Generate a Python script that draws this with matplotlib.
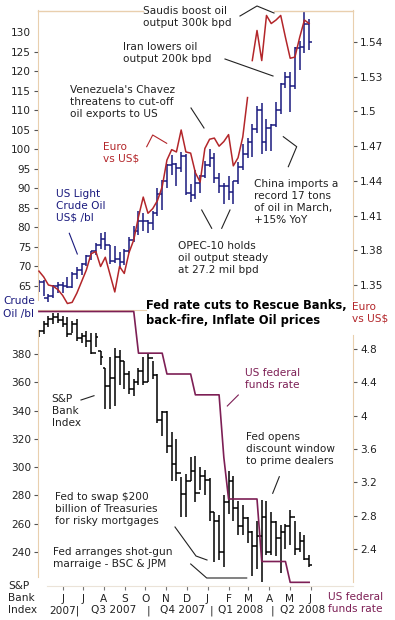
import numpy as np
import pandas as pd
import matplotlib
matplotlib.use('Agg')
import matplotlib.pyplot as plt
from matplotlib.lines import Line2D

# weekly data, first week ending 2007-04-27
oil_high = [66.5, 66.5, 63.0, 65.3, 66.0, 66.0, 67.2, 68.5, 69.8, 71.0, 73.0, 74.0, 76.0, 78.5, 78.8,
            75.5, 75.2, 73.6, 74.5, 77.5, 80.4, 84.1, 83.8, 82.0, 84.1, 90.0, 92.2, 96.2, 98.6, 96.5,
            99.3, 98.8, 91.0, 94.7, 93.4, 97.1, 100.0, 99.0, 94.0, 91.5, 93.2, 91.8, 96.7, 101.3, 103.0,
            106.5, 111.0, 111.8, 107.9, 106.6, 112.2, 117.0, 119.9, 119.8, 126.2, 127.8, 135.1, 133.3]
oil_low = [63.5, 62.5, 60.8, 61.8, 63.3, 63.3, 64.5, 64.6, 66.8, 67.8, 70.0, 71.6, 73.0, 74.5, 74.3,
           70.6, 70.8, 69.3, 70.5, 73.4, 76.3, 78.1, 79.0, 78.7, 79.3, 83.0, 84.5, 90.0, 93.5, 90.6,
           94.1, 88.2, 86.6, 87.3, 88.9, 92.6, 95.5, 91.4, 88.8, 86.1, 87.0, 86.1, 91.0, 94.8, 97.8,
           98.0, 104.2, 98.7, 99.6, 99.6, 105.7, 109.0, 115.7, 109.5, 115.4, 120.4, 124.6, 125.5]
oil_open = [63.8, 66.0, 62.0, 62.4, 65.0, 65.2, 65.1, 64.8, 68.0, 69.2, 70.7, 72.8, 73.9, 75.6, 77.0,
            75.5, 71.5, 72.0, 71.1, 74.0, 76.7, 79.1, 81.6, 81.7, 81.2, 83.7, 88.6, 91.9, 95.9, 96.3,
            95.1, 98.2, 88.7, 88.3, 91.3, 93.3, 96.0, 97.9, 92.7, 90.6, 90.7, 89.0, 91.8, 95.5, 98.8,
            101.8, 105.2, 110.2, 101.8, 105.6, 106.2, 110.1, 116.7, 118.5, 116.3, 126.0, 126.3, 132.2]
oil_close = [66.0, 62.0, 62.4, 65.0, 65.2, 65.1, 64.8, 68.0, 69.2, 70.7, 72.8, 73.9, 75.6, 77.0, 75.5,
             71.5, 72.0, 71.1, 74.0, 76.7, 79.1, 81.6, 81.7, 81.2, 83.7, 88.6, 91.9, 95.9, 96.3, 95.1,
             98.2, 88.7, 88.3, 91.3, 93.3, 96.0, 97.9, 92.7, 90.6, 90.7, 89.0, 91.8, 95.5, 98.8, 101.8,
             105.2, 110.2, 101.8, 105.6, 106.2, 110.1, 116.7, 118.5, 116.3, 126.0, 126.3, 132.2, 127.4]

euro = [1.362, 1.357, 1.350, 1.349, 1.346, 1.341, 1.334, 1.335, 1.343, 1.353, 1.363, 1.377, 1.379, 1.366,
        1.374, 1.359, 1.344, 1.366, 1.360, 1.378, 1.389, 1.409, 1.426, 1.412, 1.416, 1.423, 1.435, 1.458,
        1.467, 1.465, 1.484, 1.465, 1.464, 1.447, 1.439, 1.468, 1.476, 1.477, 1.470, 1.474, 1.480, 1.453,
        1.460, 1.478, 1.512, 1.544, 1.570, 1.544, 1.583, 1.576, 1.579, 1.583, 1.564, 1.546, 1.547, 1.564,
        1.579, 1.576]

bank_high = [397, 403, 407, 409, 409, 407, 406, 403, 405, 395, 396, 395, 395, 382, 370, 378, 384, 383, 375,
             368, 362, 370, 378, 380, 375, 366, 340, 340, 325, 320, 293, 295, 307, 308, 300, 298, 292, 268,
             266, 280, 297, 294, 276, 273, 265, 255, 262, 277, 276, 268, 262, 259, 260, 270, 262, 254, 252, 238]
bank_low = [392, 394, 399, 401, 402, 399, 392, 395, 389, 388, 385, 380, 385, 372, 341, 341, 343, 358, 355,
            352, 350, 358, 358, 360, 362, 331, 322, 310, 290, 290, 265, 265, 290, 275, 284, 280, 262, 233,
            234, 229, 267, 262, 252, 252, 246, 223, 228, 219, 238, 238, 237, 225, 242, 245, 238, 240, 234, 229]
bank_open = [393, 396, 401, 405, 406, 404, 401, 394, 401, 391, 393, 389, 381, 382, 370, 357, 363, 378, 375,
             366, 355, 360, 368, 360, 377, 365, 333, 339, 315, 302, 296, 281, 290, 297, 282, 294, 291, 268,
             262, 240, 275, 290, 271, 258, 264, 254, 244, 251, 265, 240, 261, 250, 254, 258, 265, 242, 248, 235]
bank_close = [396, 401, 405, 406, 404, 401, 394, 401, 391, 393, 389, 381, 392, 378, 357, 363, 378, 375, 366,
              355, 360, 368, 360, 377, 365, 333, 339, 315, 302, 296, 281, 290, 297, 282, 294, 291, 268, 262,
              240, 275, 290, 271, 258, 264, 254, 244, 251, 265, 240, 261, 250, 254, 258, 265, 242, 248, 235, 231]

fed_rate = [5.25, 5.25, 5.25, 5.25, 5.25, 5.25, 5.25, 5.25, 5.25, 5.25, 5.25, 5.25, 5.25, 5.25, 5.25,
            5.25, 5.25, 5.25, 5.25, 5.25, 5.25, 4.75, 4.75, 4.75, 4.75, 4.75, 4.75, 4.5, 4.5, 4.5,
            4.5, 4.5, 4.5, 4.25, 4.25, 4.25, 4.25, 4.25, 4.25, 3.5, 3.0, 3.0, 3.0, 3.0, 3.0,
            3.0, 3.0, 2.25, 2.25, 2.25, 2.25, 2.25, 2.25, 2.0, 2.0, 2.0, 2.0, 2.0]

month_letters = ['J', 'J', 'A', 'S', 'O', 'N', 'D', 'J', 'F', 'M', 'A', 'M', 'J']
oil_ticks = [65, 70, 75, 80, 85, 90, 95, 100, 105, 110, 115, 120, 125, 130]
euro_ticks = [1.35, 1.38, 1.41, 1.44, 1.47, 1.50, 1.53, 1.56]
euro_labels = ['1.35', '1.38', '1.41', '1.44', '1.47', '1.5', '1.53', '1.54']
bank_ticks = [240, 260, 280, 300, 320, 340, 360, 380]
fed_ticks = [2.4, 2.8, 3.2, 3.6, 4.0, 4.4, 4.8]
fed_labels = ['2.4', '2.8', '3.2', '3.6', '4', '4.4', '4.8']

# colours
TAN = '#e9cfae'
NAVY = '#1a1a7e'
RED = '#b3262a'
PURPLE = '#7d1f55'
INK = '#222222'
FS = 7.6

W, H = 395, 620
fig = plt.figure(figsize=(W / 100, H / 100), dpi=100)
fig.patch.set_facecolor('white')


def fx(px):
    return px / W


def fy(py):
    return 1 - py / H


start = pd.Timestamp('2007-04-27')
weeks = pd.date_range(start, periods=len(oil_close), freq='7D')
xw = ((weeks - start).days / 7).to_numpy()
months = pd.date_range('2007-06-01', '2008-06-01', freq='MS')
xm = ((months - start).days / 7).to_numpy()
xlim = (-0.2, 66.25)

ax_oil = fig.add_axes([fx(38), fy(310), fx(353) - fx(38), fy(10) - fy(310)])
ax_eur = ax_oil.twinx()
ax_bank = fig.add_axes([fx(38), fy(586), fx(353) - fx(38), fy(310) - fy(586)])
ax_fed = ax_bank.twinx()


def ohlc(ax, x, o, h, l, c, color):
    ax.vlines(x, l, h, color=color, lw=1.1)
    ax.hlines(o, x - 0.5, x, color=color, lw=1.1)
    ax.hlines(c, x, x + 0.5, color=color, lw=1.1)


# top panel
ohlc(ax_oil, xw, np.array(oil_open), np.array(oil_high), np.array(oil_low), np.array(oil_close), NAVY)
eu = np.array(euro)
ax_eur.plot(xw[:45], eu[:45], color=RED, lw=1.1)
ax_eur.plot(xw[45:], eu[45:], color=RED, lw=1.1)

ax_oil.set_xlim(*xlim)
ax_oil.set_ylim(58.85, 135.7)
ax_eur.set_ylim(1.3284, 1.5877)
ax_oil.set_xticks([])
ax_oil.set_yticks(oil_ticks)
ax_eur.set_yticks(euro_ticks)
ax_eur.set_yticklabels(euro_labels)

# bottom panel
ohlc(ax_bank, xw, np.array(bank_open), np.array(bank_high), np.array(bank_low), np.array(bank_close), 'black')
ax_fed.plot(xw, fed_rate, color=PURPLE, lw=1.2)
ax_bank.set_xlim(*xlim)
ax_bank.set_ylim(215.9, 411.1)
ax_fed.set_ylim(1.956, 5.268)
ax_bank.set_yticks(bank_ticks)
ax_fed.set_yticks(fed_ticks)
ax_fed.set_yticklabels(fed_labels)
ax_bank.set_xticks(xm)
ax_bank.set_xticklabels(month_letters)

for ax in (ax_oil, ax_eur, ax_bank, ax_fed):
    ax.patch.set_alpha(0)
    for s in ax.spines.values():
        s.set_visible(False)
    ax.tick_params(axis='y', direction='out', length=3, width=0.8, color='#555555',
                   labelsize=FS, labelcolor=INK, pad=2)

ax_bank.tick_params(axis='x', direction='out', length=3, width=0.8, color='#777777',
                    labelsize=FS, labelcolor=INK, pad=3)

for ax in (ax_oil, ax_bank):
    ax.spines['left'].set_visible(True)
    ax.spines['left'].set_color(TAN)
for ax in (ax_eur, ax_fed):
    ax.spines['right'].set_visible(True)
    ax.spines['right'].set_color(TAN)
ax_oil.spines['left'].set_bounds(61.4, 135.7)
ax_oil.spines['bottom'].set_visible(True)
ax_oil.spines['bottom'].set_color(TAN)
ax_oil.spines['bottom'].set_bounds(-0.2, 22.5)
ax_eur.spines['right'].set_bounds(1.337, 1.5877)
ax_bank.spines['left'].set_bounds(222, 397)
ax_fed.spines['right'].set_bounds(2.0, 4.97)
ax_bank.spines['bottom'].set_visible(True)
ax_bank.spines['bottom'].set_color('#ebe3d8')
ax_bank.spines['bottom'].set_bounds(1.7, 66.2)

# hide tick mark on 130
ax_oil.yaxis.get_major_ticks()[-1].tick1line.set_visible(False)

# top border pieces
for seg in [((38, 11), (143, 11)), ((274, 11), (353, 11))]:
    fig.add_artist(Line2D([fx(seg[0][0]), fx(seg[1][0])], [fy(seg[0][1]), fy(seg[1][1])],
                          transform=fig.transFigure, color=TAN, lw=1))


def note(px, py, s, color=INK, **kw):
    fig.text(fx(px), fy(py), s, color=color, fontsize=kw.pop('fontsize', FS), ha=kw.pop('ha', 'left'),
             va='top', linespacing=1.25, **kw)


def leader(pts, color=INK):
    xs = [fx(p[0]) for p in pts]
    ys = [fy(p[1]) for p in pts]
    fig.add_artist(Line2D(xs, ys, transform=fig.transFigure, color=color, lw=0.8))


note(143, 6, 'Saudis boost oil\noutput 300k bpd')
leader([(240, 16), (257, 6), (274, 13)])
note(122.7, 42.5, 'Iran lowers oil\noutput 200k bpd')
leader([(225, 59), (273, 76)])
note(70, 85, "Venezuela's Chavez\nthreatens to cut-off\noil exports to US")
leader([(191, 108), (204, 128)])
note(103, 141.5, 'Euro\nvs US$', color=RED)
leader([(146.7, 146.7), (152.7, 135), (166.7, 143.3)], color=RED)
note(56, 189, 'US Light\nCrude Oil\nUS$ /bl', color=NAVY)
leader([(69.3, 233.3), (77.3, 254)], color=NAVY)
note(178, 241, 'OPEC-10 holds\noil output steady\nat 27.2 mil bpd')
leader([(201.7, 210), (211.7, 228.3)])
leader([(221.7, 228.3), (230, 210)])
note(254.3, 179, 'China imports a\nrecord 17 tons\nof oil in March,\n+15% YoY')
leader([(283.3, 136.7), (296.7, 146.7), (288.3, 166.7)])

note(3, 296.5, 'Crude\nOil /bl', color=NAVY)
note(145.5, 299, 'Fed rate cuts to Rescue Banks,\nback-fire, Inflate Oil prices', fontsize=8.3,
     fontweight='bold', color='black')
note(352, 301.5, 'Euro\nvs US$', color=RED)

note(51.7, 394, 'S&P\nBank\nIndex')
leader([(81, 400), (94, 395.7)])
note(245, 368, 'US federal\nfunds rate', color=PURPLE)
leader([(227.3, 406), (238.3, 395)], color=PURPLE)
note(246, 432, 'Fed opens\ndiscount window\nto prime dealers')
leader([(272.7, 493.3), (279.3, 476.7)])
note(55, 492.5, 'Fed to swap $200\nbillion of Treasuries\nfor risky mortgages')
leader([(175, 527), (196, 556), (207, 560)])
note(53.3, 547, 'Fed arranges shot-gun\nmarraige - BSC & JPM')
leader([(190.7, 564), (206.7, 578), (246.7, 578)])

note(8, 581, 'S&P\nBank\nIndex')
note(328, 591.5, 'US federal\nfunds rate', color=PURPLE)

# quarter row
qtr = ax_bank.get_xaxis_transform()
row_y = -0.088
ax_bank.text(xm[1] - 0.6, row_y, '2007|', transform=qtr, ha='right', va='center', fontsize=FS, color=INK)
for pos, lab in [(15.7, 'Q3 2007'), (30.2, 'Q4 2007'), (42.6, 'Q1 2008'), (55.6, 'Q2 2008')]:
    ax_bank.text(pos, row_y, lab, transform=qtr, ha='center', va='center', fontsize=FS, color=INK)
for pos in [23.0, 36.3, 49.2]:
    ax_bank.text(pos, row_y, '|', transform=qtr, ha='center', va='center', fontsize=FS, color=INK)

fig.savefig('out.png', dpi=100)
